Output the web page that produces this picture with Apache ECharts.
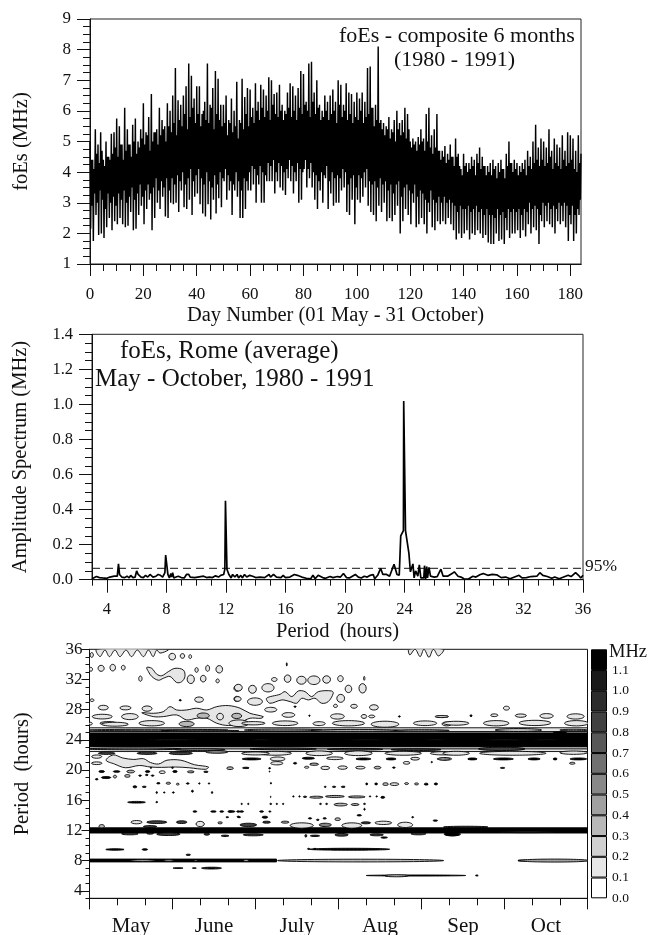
<!DOCTYPE html>
<html><head><meta charset="utf-8">
<script src="https://cdn.jsdelivr.net/npm/echarts@6/dist/echarts.min.js"></script>
<style>html,body{margin:0;padding:0;background:#fff}#c{width:648px;height:935px}</style></head>
<body><div id="c"></div>
<script>
// ---- top panel: foEs (MHz), daily extremes and the inner oscillation, day 0..184
const dailyHigh=[5.0,4.4,5.4,4.9,5.3,4.4,5.0,4.5,5.25,5.3,
5.75,5.5,4.9,6.1,5.4,4.9,5.55,5.75,5.0,5.4,
6.25,5.3,5.8,6.55,5.3,5.4,6.1,5.7,5.5,6.25,
6.0,6.5,7.4,6.35,6.2,6.5,6.8,7.55,7.15,6.4,
6.8,6.8,5.9,6.3,7.55,6.2,6.75,7.3,7.05,6.2,
6.2,6.5,5.7,6.4,6.0,6.95,5.7,7.05,6.45,6.75,
6.7,6.1,6.9,6.3,6.85,6.7,6.5,7.1,7.0,6.55,
6.6,6.85,6.2,6.0,6.6,6.9,6.8,6.5,6.75,7.3,
7.2,6.3,7.55,7.6,6.6,7.0,6.2,6.0,6.5,6.3,
6.5,6.7,6.3,7.0,6.85,6.2,6.9,6.6,6.55,6.3,
6.6,6.4,6.6,6.3,7.4,7.45,6.1,6.2,8.1,5.7,
5.6,5.5,5.8,5.4,5.7,6.0,5.6,5.7,6.1,5.9,
5.0,5.1,5.0,5.15,5.4,5.1,5.9,6.1,5.2,5.4,
5.9,4.7,4.7,4.85,4.6,4.9,4.5,5.1,4.6,4.1,
4.6,4.3,4.3,4.5,4.4,4.6,4.8,4.5,4.2,4.2,
4.3,4.4,4.2,4.3,4.4,4.1,4.6,5.0,4.3,4.4,
4.3,4.2,4.3,4.4,4.7,4.5,5.0,5.55,4.8,5.1,
5.0,4.8,5.4,4.7,5.1,4.9,4.8,5.2,4.7,5.3,
5.2,5.1,4.7,5.2,4.6];
const dailyLow=[2.15,1.75,2.6,1.95,2.0,1.85,2.2,2.5,2.1,2.4,
2.3,2.5,2.3,2.2,2.25,2.7,2.1,2.15,2.6,2.9,
2.3,2.8,3.1,2.1,2.5,3.0,2.8,3.2,2.55,2.5,
3.0,2.95,3.0,2.7,3.4,2.85,2.8,3.1,2.6,3.2,
3.3,2.95,2.65,2.55,2.95,2.45,3.1,2.65,3.15,2.85,
3.7,3.1,3.4,2.6,3.4,3.2,2.5,2.5,2.8,3.4,
3.4,3.6,3.0,3.6,3.0,3.0,3.7,3.7,3.7,3.3,
3.7,3.5,3.4,3.25,3.8,3.7,3.3,3.7,3.0,3.1,
4.1,3.5,3.8,3.5,3.1,2.8,3.4,3.0,3.8,2.8,
3.3,2.9,3.0,3.0,3.4,3.5,2.7,2.6,3.1,2.3,
3.1,3.0,3.2,3.5,2.9,2.7,2.6,2.4,2.9,2.7,
3.0,2.4,2.5,2.4,2.6,2.9,2.0,2.4,2.8,2.6,
2.3,3.0,2.2,2.3,2.5,2.3,2.0,2.7,2.2,2.1,
2.4,2.3,2.4,2.3,2.5,2.3,2.1,1.8,2.0,1.85,
2.0,2.1,1.8,2.0,1.95,2.1,2.0,1.85,1.95,1.7,
1.65,1.65,2.0,1.75,1.8,1.65,2.1,1.85,2.0,2.0,
2.1,1.85,2.1,1.9,2.3,2.0,2.2,2.1,1.65,2.4,
2.2,2.4,2.3,2.2,2.0,2.4,2.3,2.4,2.2,1.75,
2.3,1.75,2.0,2.6,1.85];
const innerHigh=[4.4,4.1,4.6,4.3,4.7,4.2,4.5,4.4,4.6,4.8,
4.5,4.9,4.4,4.7,4.9,4.5,5.0,4.6,4.8,5.1,
4.9,5.2,4.7,5.0,5.3,4.9,5.2,5.4,5.0,5.5,
5.3,5.6,5.2,5.7,5.5,5.9,5.4,5.8,6.1,5.6,
5.9,5.5,6.0,5.7,5.6,6.1,5.4,5.9,5.7,5.5,
5.6,5.2,5.6,5.3,5.5,5.1,5.6,5.4,5.9,5.5,
5.8,5.6,6.0,5.7,6.1,5.8,6.0,5.7,6.2,5.9,
5.8,6.0,5.7,5.9,6.1,5.8,6.0,5.7,6.1,5.9,
6.2,6.0,5.8,6.3,5.9,6.1,5.7,5.8,6.0,5.7,
5.9,6.0,5.6,6.2,5.8,6.0,5.7,5.9,5.6,5.8,
5.7,6.0,5.6,5.8,5.9,6.1,5.5,5.7,5.6,5.4,
5.2,5.4,5.1,5.3,5.0,5.4,5.2,5.3,5.1,5.4,
4.8,4.9,4.7,4.9,5.0,4.7,5.0,4.8,4.6,4.8,
4.7,4.4,4.5,4.3,4.4,4.5,4.2,4.5,4.2,3.9,
4.2,4.0,4.1,4.2,3.9,4.3,4.1,4.2,3.9,4.0,
3.9,4.1,3.8,4.0,4.1,3.8,4.2,4.3,4.0,4.1,
3.9,4.0,4.1,3.9,4.2,4.1,4.3,4.4,4.2,4.4,
4.2,4.3,4.5,4.1,4.3,4.2,4.1,4.4,4.2,4.3,
4.4,4.1,4.0,4.3,4.0];
const innerLow=[2.9,3.3,3.0,3.4,3.1,2.8,3.3,3.0,3.2,2.9,
3.3,3.1,3.4,3.0,3.2,3.5,3.1,3.3,3.6,3.2,
3.4,3.6,3.3,3.5,3.8,3.4,3.7,3.5,3.8,3.4,
3.8,3.6,3.9,3.7,4.0,3.6,3.8,4.1,3.7,3.9,
4.1,3.8,3.6,4.0,3.7,3.5,3.9,3.6,4.0,3.8,
4.1,3.9,3.7,3.6,4.0,3.7,3.4,3.8,3.7,4.0,
4.2,4.1,3.9,4.2,4.0,3.9,4.3,4.2,4.4,4.0,
4.3,4.2,4.0,4.1,4.4,4.2,4.0,4.3,4.1,4.0,
4.4,4.1,4.3,4.0,3.9,3.7,4.0,3.9,4.2,3.7,
4.0,3.8,3.9,3.8,4.1,4.0,3.6,3.8,3.9,3.5,
3.9,3.8,4.0,4.1,3.7,3.6,3.7,3.5,3.8,3.6,
3.7,3.4,3.6,3.3,3.6,3.7,3.2,3.5,3.6,3.4,
3.3,3.6,3.2,3.4,3.3,3.1,3.0,3.4,3.1,3.0,
3.2,3.0,3.2,3.0,3.1,3.0,2.9,2.7,2.9,2.8,
2.8,2.9,2.7,2.8,2.9,2.7,2.8,2.6,2.8,2.6,
2.6,2.5,2.8,2.6,2.7,2.5,2.8,2.7,2.8,2.7,
2.8,2.6,2.8,2.7,3.0,2.8,2.9,2.8,2.6,3.0,
2.9,3.0,2.8,2.9,2.8,3.0,2.9,3.0,2.9,2.6,
2.9,2.6,2.8,3.1,2.7];
const dayMajorTicks=[0,20,40,60,80,100,120,140,160,180];
const dayMinorTicks=[5,10,15,25,30,35,45,50,55,65,70,75,85,90,95,105,110,115,125,130,135,145,150,155,165,170,175];

// ---- middle panel: amplitude spectrum
const spectrumPeriod=[3,3.1,3.3,3.5,3.7,4,4.2,4.3,4.5,4.6,4.7,4.78,4.85,5,5.1,5.2,5.35,5.5,5.6,5.75,5.9,6,6.1,6.3,6.45,6.6,6.75,6.9,7,7.1,7.3,7.45,7.6,7.75,7.9,7.95,8.05,8.1,8.2,8.3,8.35,8.42,8.5,8.65,8.8,9,9.2,9.35,9.5,9.6,9.9,10.1,10.2,10.5,10.7,10.9,11.1,11.3,11.5,11.65,11.85,11.93,11.97,12.03,12.07,12.2,12.35,12.45,12.6,12.75,12.85,13,13.1,13.25,13.4,13.6,13.8,14,14.3,14.6,14.9,15,15.2,15.4,15.5,15.7,15.85,16,16.3,16.6,16.8,17.1,17.4,17.7,17.85,18,18.2,18.5,18.7,19,19.2,19.5,19.7,19.9,20.1,20.3,20.5,20.7,20.9,21.1,21.3,21.5,21.7,21.9,22,22.2,22.4,22.55,22.8,23,23.3,23.5,23.65,23.75,23.93,23.95,24.05,24.07,24.17,24.3,24.4,24.5,24.57,24.65,24.75,24.9,25,25.1,25.3,25.35,25.42,25.5,25.55,25.65,25.75,26,26.2,26.45,26.6,26.9,27.2,27.35,27.6,27.8,28,28.3,28.6,28.8,29.1,29.3,29.6,29.9,30.2,30.5,30.8,31.1,31.4,31.7,31.9,32.2,32.5,32.9,33.1,33.3,33.6,33.9,34.1,34.4,34.7,35,35.2,35.5,35.7,35.85,36];
const spectrumAmp=[.005,.015,.018,.012,.01,.008,.015,.012,.02,.025,.02,.09,.03,.015,.02,.012,.02,.01,.025,.012,.015,.05,.03,.015,.012,.025,.015,.03,.035,.015,.02,.03,.025,.015,.04,.14,.14,.03,.01,.035,.015,.04,.01,.015,.02,.012,.01,.03,.03,.015,.012,.015,.008,.02,.012,.015,.012,.022,.015,.025,.03,.06,.45,.45,.06,.03,.01,.03,.015,.03,.01,.025,.01,.03,.015,.025,.02,.012,.015,.012,.03,.015,.03,.015,.025,.012,.025,.012,.015,.03,.025,.015,.008,.005,.025,.005,.025,.012,.008,.018,.012,.018,.015,.035,.012,.01,.02,.03,.015,.01,.02,.015,.025,.03,.005,.025,.065,.03,.03,.02,.088,.03,.025,.25,.28,1.02,1.02,.28,.27,.15,.045,.04,.09,.01,.05,.02,.085,.01,.01,.08,.002,.075,.01,.07,.02,.015,.018,.06,.02,.02,.035,.045,.02,.015,.005,.004,.02,.015,.03,.035,.025,.03,.028,.012,.015,.005,.015,.025,.01,.012,.018,.02,.04,.025,.018,.008,.015,.005,.015,.025,.018,.04,.025,.01,.025];
const significance95=0.065;
const periodMajorTicks=[4,8,12,16,20,24,28,32,36];
const periodMinorTicks=[3,5,6,7,9,10,11,13,14,15,17,18,19,21,22,23,25,26,27,29,30,31,33,34,35];

// ---- bottom panel: filled contours, in day (30 per month) and period (hours)
const months=['May','June','July','Aug','Sep','Oct'];
const levelValues=[0,.1,.2,.3,.4,.5,.6,.7,.8,.9,1.0,1.1];
const levelColors=['#ffffff','#e6e6e6','#d0d0d0','#b8b8b8','#a0a0a0','#888888','#707070','#585858','#404040','#2c2c2c','#1a1a1a','#000000'];
const contourPeriodMajor=[4,8,12,16,20,24,28,32,36];
const contourPeriodMinor=[3,5,6,7,9,10,11,13,14,15,17,18,19,21,22,23,25,26,27,29,30,31,33,34,35];
// [dayStart, dayEnd, periodLow, periodHigh, level]
const bands=[[0,180,22.45,25.6,1],[0,180,24.85,25.1,3],[0,180,22.8,23.2,3],[0,180,23.1,24.9,11],[0,180,11.65,12.35,11],[0,67.6,7.82,8.2,11],[155,158,7.93,8.07,11]];
// [day, period, halfDays, halfHours, level]
const blobs=[
[.8,35.25,.6,.31,1],[29.9,35.03,1.2,.44,1],[33.6,35.12,.8,.31,1],[36.4,35.03,.5,.26,1],
[.5,33.35,.6,.26,1],[4.2,33.48,1.1,.4,1],[8.4,33.57,1,.44,1],[12.2,33.57,.7,.31,1],[18.4,32.11,.6,.35,1],
[38.7,33.26,.6,.31,1],[42.7,33.48,.7,.4,1],[46.9,33.35,1.2,.49,1],[36.6,32.03,1.3,.57,1],[41.1,32.11,1,.44,1],[46.3,31.81,.6,.26,1],
[53.4,30.83,1.2,.4,1],[53.2,29.42,1,.35,1],[39.6,29.33,1.6,.35,1],[32.8,29.25,.4,.09,11],[.9,29.25,.7,.18,1],
[5,28.27,1.8,.31,1],[13,28.23,2,.26,1],[20.8,28.14,1.8,.35,1],
[4.6,27.08,3.6,.31,1],[14.6,27.08,3,.4,1],[6.8,26.2,3,.22,3],[9.2,26.07,4.8,.26,1],[22.5,26.2,4.6,.35,1],[.4,26.15,.6,.18,1],
[35.1,26.11,2.7,.35,3],[41.1,27.21,2.2,.35,3],[47.2,27.08,1.2,.44,1],[53.2,27.17,1.8,.35,3],[54,26.2,3.6,.44,1],
[25,25.3,25,.1,3],[40,25.2,14,.08,3],
[16,22.8,17,.12,5],[40,22.7,9,.12,5],[20.8,22.22,3.6,.15,8],[6.2,22.22,3,.15,8],[33,22.22,4.2,.18,8],[46,22.4,4,.18,5],
[2.6,21.78,1.8,.22,1],[2.6,20.9,1.9,.18,1],[50.8,20.24,1.2,.18,3],
[4.4,19.8,1,.13,11],[9.8,19.8,1.2,.11,11],[14.9,19.8,1.4,.18,3],[21,19.8,.8,.13,11],[26.3,19.71,1.1,.18,1],[30.9,19.8,.8,.13,11],[36.6,19.76,1.2,.13,3],[42.1,19.76,.8,.09,11],[22.2,20.3,.25,.09,11],[30,20.3,.35,.09,11],
[2.6,18.78,.5,.09,11],[6,19,1.7,.13,11],[9.2,19.13,.6,.18,3],[13.7,19.22,1,.18,3],[18.3,19.26,.5,.09,11],[20.7,19.35,.5,.09,11],[22.8,19.26,.5,.09,11],
[24.9,18.25,.6,.09,11],[28.5,18.25,.8,.13,3],[31.9,18.13,.5,.13,1],[35.5,18.22,.5,.09,11],[39.7,18.22,.25,.09,11],[43.2,18.22,.25,.09,11],
[16.4,17.77,.7,.13,11],[19.8,17.77,.7,.09,11],
[24.3,17.02,.25,.13,11],[27,17.02,.25,.09,11],[30.3,17.02,.35,.09,11],[37.2,17.2,.35,.13,11],[44.3,17.02,.25,.13,11],
[17,15.73,3.2,.11,11],[24.3,15.75,.35,.09,11],
[38.1,14.5,.7,.09,11],[44.8,14.5,1,.09,11],[47.8,14.5,.7,.09,11],[50.8,14.5,.8,.09,11],[53.8,14.5,.6,.09,11],[49.8,13.75,.5,.07,11],[54.1,13.75,.5,.07,11],
[17,13.09,2,.22,1],[24.3,13.09,3.6,.18,8],[33.3,13.09,1.9,.18,8],[40,12.85,1.5,.35,1],[47.2,13,.8,.13,3],[21.9,12.51,2.4,.13,8],[4.4,12.55,1,.22,3],
[14.6,11.54,3,.13,8],[28.5,11.5,4.2,.18,8],[21.9,11.59,1.2,.09,8],[42.4,11.5,1,.13,8],[49,11.28,1.4,.09,11],
[9.2,9.47,3.3,.1,11],[20,9.47,1,.1,11],[35.7,8.76,.8,.09,11],
[19.2,8.0,4.6,.11,2],[28.6,8.0,1.9,.1,2],[38.4,8.0,.6,.08,2],[56.6,8.0,1,.12,2],
[32,7,1.8,.05,11],[37.9,7,.7,.05,11],[44.1,7,3.6,.12,11],
[71.3,34,.15,.22,11],[71.6,32.11,1.2,.49,1],[76.6,31.9,1.7,.53,1],[81.1,31.9,2.2,.57,1],[85.7,32,1.4,.49,1],[90.7,32.11,1,.4,1],[99.3,32.15,.25,.26,1],[98.7,30.83,1.3,.62,1],[93.6,30.75,1.2,.49,1],
[64.5,30.9,2.2,.55,1],[66.8,32,1,.26,1],[53.8,30.92,1.4,.44,1],[58.9,30.7,1.4,.53,1],[53.6,29.42,1.2,.31,1],[59.8,29.07,2.7,.49,1],[65.5,28,2.2,.31,1],[90.8,29.5,1.4,.53,1],[88.9,28.5,.7,.22,1],[95.6,28.45,1.2,.26,1],[102.8,28.3,1.6,.35,1],[74.3,28.4,.4,.09,11],
[71.9,27.3,2.3,.31,1],[79.5,27.2,.25,.09,11],[89.6,27.1,2.5,.35,1],[99.2,27.1,1,.26,1],[102,27.1,1.1,.18,1],[112,27.1,.35,.09,11],[127.5,27.1,2.2,.13,1],
[59.2,26.2,4.2,.22,1],[70.7,26.2,4.6,.31,1],[83,26.15,2.2,.26,1],[93.6,26.2,5.8,.35,1],[106.8,26.07,5,.4,1],[121.3,26.2,4.2,.31,1],[129.1,26.11,1.7,.26,1],
[70,25.3,14,.13,3],[96,25.25,16,.13,3],[120,25.25,10,.1,3],
[67,22.22,6,.26,1],[83,22.22,4.8,.31,1],[97.2,22.22,5,.31,1],[113.4,22.22,6.6,.26,1],[128,22.22,4.8,.22,1],[60,22.2,5,.2,1],
[70,22.8,12,.12,8],[96,22.75,10,.12,8],[118,22.7,9,.12,8],
[58.6,21.47,3.4,.13,11],[68,21.47,2.7,.26,1],[79.1,21.56,2.2,.13,11],[88.7,21.56,3,.18,1],[99,21.47,2.7,.13,11],[109,21.47,1.8,.13,11],[117.7,21.5,1.6,.18,1],[128.5,21.47,2.4,.18,1],[123.7,21.05,.25,.09,11],
[67.7,20.9,2.2,.22,1],[74.3,20.9,.6,.11,11],[81.2,20.77,1.6,.15,3],[114.6,20.95,1.2,.18,1],
[56.5,20.28,1.2,.09,11],[65.1,20.24,.35,.09,11],[78.5,20.37,.8,.13,1],[85.2,20.28,1.6,.22,1],[91.5,20.32,1.7,.22,1],[97.9,20.32,1.7,.18,1],[104.1,20.32,1.2,.18,3],[110,20.32,.5,.09,11],
[65.1,19.8,.12,.09,11],[65.5,18.25,.12,.09,11],[65.5,16.44,.12,.09,11],[65.7,18.25,.1,.07,11],
[85.2,17.77,.35,.09,11],[88.4,17.77,.6,.09,11],[91.7,17.77,.7,.09,11],
[100.2,18.16,.35,.13,11],[103.6,18.16,.5,.13,11],[107,18.13,1,.18,3],[110.2,18.13,1.6,.18,1],[114.6,18.2,.7,.13,3],[118.2,18.16,.7,.13,3],[121.7,18.13,.7,.13,11],[125.2,18.16,.6,.13,11],
[73.7,16.5,.25,.09,11],[75.9,16.5,.25,.09,11],[77.9,16.45,.6,.09,11],[82,16.4,2.4,.13,3],[88.7,16.5,3.4,.13,3],[96.6,16.44,3,.13,3],[101.4,16.5,.25,.09,11],[103.8,16.5,.25,.09,11],[106,16.38,.7,.13,11],
[83.5,15.51,.35,.09,11],[85.7,15.51,.35,.09,11],[90.8,15.42,2.4,.18,3],[96,15.42,1.4,.13,3],[99.4,15.51,.35,.09,11],[65.5,15.51,.35,.09,11],[67.7,15.51,.25,.09,11],[70,15.51,.25,.09,11],[55,15.51,.25,.09,11],[57.4,15.51,.25,.09,11],
[99.4,14.8,.25,.13,11],[51.4,14.5,1.2,.09,11],[55,14.5,.7,.09,11],[62.2,14.5,.7,.09,11],[65.2,14.5,.35,.09,11],
[53.8,13.8,.5,.09,11],[63.4,13.75,1,.13,11],[79.7,13.6,.6,.09,11],[82.5,13.4,.5,.09,11],[85,13.6,.6,.09,11],[89.7,13.48,1,.18,3],[97.5,14,.8,.09,11],[116.8,13.75,.35,.09,11],[125,13.3,.8,.09,11],
[57.4,12.73,3,.22,8],[64,13.09,1.4,.13,8],[70.7,13.09,1.4,.13,3],[76.7,12.65,4.2,.35,1],[85.2,12.73,2.2,.22,5],[94.8,12.65,3.6,.35,1],[99.9,13,1.7,.13,8],[106.2,13,3,.22,1],[114.1,12.73,2.7,.35,1],
[59.2,11.41,3.6,.13,8],[78.2,11.28,.35,.18,8],[81.5,11.28,1.7,.09,11],[91.1,11.41,2.4,.18,8],[103.8,11.41,2.4,.13,8],[106.5,11.05,1.2,.09,11],[118.9,11.54,2.7,.13,8],[131.4,11.5,2.7,.22,8],
[79.2,9.55,.4,.08,11],[81.5,9.55,.4,.08,11],[94,9.5,14.5,.13,11],
[98,8.0,30,.18,3],[168,8.0,12.5,.2,4],
[118,6.02,18,.07,11],[111,5.98,4.2,.13,2],[140,6.02,.5,.07,11],
[150.7,28.2,1.1,.26,1],[146.3,27.26,1.3,.18,1],[155.9,27.21,2,.22,1],[165.2,27.17,2.4,.31,1],[175.7,27.1,3.1,.35,1],[137.9,27.2,.35,.13,11],[127.3,27.08,2.4,.13,1],
[132.5,26.2,4.6,.26,1],[147,26.2,4.6,.35,1],[161,26.24,5.7,.35,1],[176,26.2,4.3,.35,1],
[155,25.3,8.4,.2,3],[170,24.98,2.4,.09,11],[175,25.3,5,.1,3],
[132.5,22.22,4.8,.26,1],[149,22.8,8.4,.22,8],[153,22.22,12,.26,1],[175,22.3,5,.22,1],
[128,21.47,2.4,.13,1],[138.4,21.47,1.7,.13,11],[149.6,21.47,3.6,.13,11],[160.7,21.47,2.2,.13,11],[168.3,21.47,.7,.13,11],[176.7,21.47,3,.13,11],[174.5,20.9,1,.13,2],[149.3,20.28,.8,.07,11],
[130.9,11.5,2.7,.22,11],[158,11.8,10,.1,8],[136,12.45,8,.1,8],
[125,24,4,.07,8],[62,24,4,.07,8],[30,24,9,.07,7],[100,24,8,.07,8],[150,24,8,.07,7],[165,24,5,.07,8]
];
// [level, day, period, day, period, ...] outlines of the elongated contours
const outlines=[
[1,2.6,36,3.8,35.03,5.6,35.9,7.2,35.03,9.2,35.9,11,35.03,13.2,35.9,15.2,35.03,17.3,35.9,19.5,35.03,21.3,35.9,23,35.03,24.3,35.9,25.5,35.5,28.5,35.9,28,36],
[1,20.7,33.6,22.5,33.48,24.3,32.7,26.1,32.5,28.5,33.04,30.9,33.48,33.9,33.26,34.5,32.4,33.3,31.7,31.5,31.6,29.1,32.4,26.7,32.16,24.9,31.9,22.5,32.4,21.3,33.04],
[1,18.9,27.6,23.1,27.52,26.7,27.74,29.1,28.4,31.5,27.96,35.1,27.96,38.7,28.19,42.4,27.96,46,28.4,50.2,28.54,54.4,28.2,58,27.52,62.8,27.08,62,26.86,58,26.86,54,26.2,50.2,25.9,46,26.2,42.4,26.86,38.7,26.86,35.1,26.64,31.5,27.3,26.7,27.08,23.1,27.08],
[1,64,29.51,68.9,30.04,70.7,30.39,73.1,29.73,75.5,30.48,77.9,30.39,80.3,29.73,82.7,30.39,87.5,30.48,88.1,30.17,86.3,29.07,83.9,28.85,81.5,29.51,79.1,29.29,76.7,29.51,74.9,28.85,72.5,29.07,69.5,29.29,65.2,28.85],
[1,115.5,36,115.8,35.25,117.7,36,119.5,35.03,120.9,36,122.7,34.94,124.3,36,126.1,35.12,127.9,36],
[1,8.6,22,12,21.6,16,21.4,19.5,21.5,22,21,25,20.8,28,21.3,33,21.3,38,20.7,43,20.4,42,20.1,36,20.3,31,20.4,26,20.35,22,20.4,18,20.6,13,20.3,9,20.8,6,21.3]
];

const SERIF='Liberation Serif';
function axisBase(o){return Object.assign({gridIndex:o.g,type:'value',min:o.min,max:o.max,position:o.pos,
  splitLine:{show:false},axisLine:{onZero:false,lineStyle:{color:'#111',width:1}},
  axisTick:{show:true,length:o.len,lineStyle:{color:'#111',width:1},customValues:o.ticks},
  axisLabel:o.labels?{show:true,customValues:o.ticks,margin:o.margin,fontFamily:SERIF,fontSize:o.fs,color:'#111',formatter:o.fmt}:{show:false}},o.extra||{});}
const nameStyle=fs=>({fontFamily:SERIF,fontSize:fs,color:'#111'});

const composite=[];
dailyHigh.forEach((v,i)=>{
  composite.push([i,v]);
  if(i<184){composite.push([i+.25,dailyLow[i]],[i+.5,innerHigh[i]],[i+.75,innerLow[i]]);}
});
const spectrum=spectrumPeriod.map((p,i)=>[p,spectrumAmp[i]]);

function ell(params,api){
  const x=api.value(0),y=api.value(1),hw=api.value(2),hh=api.value(3),lv=api.value(4);
  const a=api.coord([x-hw,y+hh]),b=api.coord([x+hw,y-hh]);
  return {type:'ellipse',shape:{cx:(a[0]+b[0])/2,cy:(a[1]+b[1])/2,rx:(b[0]-a[0])/2,ry:(b[1]-a[1])/2},
    style:{fill:levelColors[lv],stroke:'#000',lineWidth:.9}};
}
function bandItem(params,api){
  const a=api.coord([api.value(0),api.value(3)]),b=api.coord([api.value(1),api.value(2)]);
  return {type:'rect',shape:{x:a[0],y:a[1],width:b[0]-a[0],height:b[1]-a[1]},style:{fill:levelColors[api.value(4)],stroke:'#000',lineWidth:.9}};
}
function outlineItem(params,api){
  const o=outlines[api.value(0)],pts=[];
  for(let i=1;i<o.length;i+=2)pts.push(api.coord([o[i],o[i+1]]));
  return {type:'polygon',shape:{points:pts,smooth:.35},style:{fill:levelColors[o[0]],stroke:'#000',lineWidth:.9}};
}
const colorSeries=levelColors.map(c=>({type:'bar',xAxisIndex:6,yAxisIndex:4,stack:'scale',barWidth:'100%',silent:true,
  data:[.1],itemStyle:{color:c,borderColor:'#000',borderWidth:1}}));

const opt={animation:false,backgroundColor:'#fff',
 grid:[
  {left:90,top:19,width:491,height:245,show:true,borderColor:'#222',borderWidth:1,outerBoundsMode:'none'},
  {left:92,top:334.3,width:491,height:245.4,show:true,borderColor:'#222',borderWidth:1,outerBoundsMode:'none'},
  {left:89.5,top:649.3,width:498,height:249,show:true,borderColor:'#111',borderWidth:1,outerBoundsMode:'none'},
  {left:591,top:649.3,width:16,height:249,show:false,outerBoundsMode:'none'}],
 xAxis:[
  axisBase({g:0,min:0,max:184,pos:'bottom',len:12,ticks:dayMajorTicks,labels:true,margin:22,fs:17,
    extra:{name:'Day Number (01 May - 31 October)',nameLocation:'middle',nameGap:41,nameTextStyle:nameStyle(20.5)}}),
  axisBase({g:0,min:0,max:184,pos:'bottom',len:7,ticks:dayMinorTicks}),
  axisBase({g:1,min:3,max:36,pos:'bottom',len:13,ticks:periodMajorTicks,labels:true,margin:21,fs:16.5,
    extra:{name:'Period  (hours)',nameLocation:'middle',nameGap:41,nameTextStyle:nameStyle(20.5)}}),
  axisBase({g:1,min:3,max:36,pos:'bottom',len:6,ticks:periodMinorTicks}),
  {gridIndex:2,type:'value',min:0,max:180,interval:30,position:'bottom',splitLine:{show:false},
   axisLine:{onZero:false,lineStyle:{color:'#111'}},axisTick:{show:true,length:11,lineStyle:{color:'#111'}},
   minorTick:{show:true,splitNumber:3,length:7,lineStyle:{color:'#111'}},axisLabel:{show:false}},
  {gridIndex:2,type:'category',data:months,position:'bottom',boundaryGap:true,axisLine:{show:false},axisTick:{show:false},
   axisLabel:{show:true,interval:0,margin:18,fontFamily:SERIF,fontSize:21,color:'#111'}},
  {gridIndex:3,type:'category',data:['MHz'],show:false}
 ],
 yAxis:[
  {gridIndex:0,type:'value',min:1,max:9,interval:1,position:'left',name:'foEs (MHz)',nameLocation:'middle',nameGap:58,nameTextStyle:nameStyle(20.5),
   splitLine:{show:false},axisLine:{onZero:false,lineStyle:{color:'#111'}},axisTick:{length:13,lineStyle:{color:'#111'}},
   minorTick:{show:true,splitNumber:4,length:7,lineStyle:{color:'#111'}},axisLabel:{margin:19,fontFamily:SERIF,fontSize:17,color:'#111'}},
  {gridIndex:1,type:'value',min:0,max:1.4,interval:.2,position:'left',name:'Amplitude Spectrum (MHz)',nameLocation:'middle',nameGap:61,nameTextStyle:nameStyle(20.5),
   splitLine:{show:false},axisLine:{onZero:false,lineStyle:{color:'#111'}},axisTick:{length:13,lineStyle:{color:'#111'}},
   minorTick:{show:true,splitNumber:4,length:7,lineStyle:{color:'#111'}},
   axisLabel:{margin:19,fontFamily:SERIF,fontSize:16.5,color:'#111',formatter:v=>v.toFixed(1)}},
  axisBase({g:2,min:3,max:36,pos:'left',len:8,ticks:contourPeriodMajor,labels:true,margin:7,fs:17,
    extra:{name:'Period  (hours)',nameLocation:'middle',nameGap:56,nameTextStyle:nameStyle(20.5)}}),
  axisBase({g:2,min:3,max:36,pos:'left',len:4,ticks:contourPeriodMinor}),
  axisBase({g:3,min:0,max:1.2,pos:'right',len:0,ticks:levelValues,labels:true,margin:5,fs:13.5,fmt:v=>v.toFixed(1),
    extra:{axisLine:{show:false}}})
 ],
 graphic:[
  {type:'text',left:339,top:25,style:{text:'foEs - composite 6 months',font:'22px "Liberation Serif"',fill:'#111'}},
  {type:'text',left:394,top:49,style:{text:'(1980 - 1991)',font:'22px "Liberation Serif"',fill:'#111'}},
  {type:'text',left:120,top:339,style:{text:'foEs, Rome (average)',font:'25px "Liberation Serif"',fill:'#111'}},
  {type:'text',left:95,top:367,style:{text:'May - October, 1980 - 1991',font:'25px "Liberation Serif"',fill:'#111'}},
  {type:'text',left:585,top:557,style:{text:'95%',font:'17.5px "Liberation Serif"',fill:'#111'}},
  {type:'text',left:609,top:643,style:{text:'MHz',font:'18.5px "Liberation Serif"',fill:'#111'}}
 ],
 series:[
  {type:'line',xAxisIndex:0,yAxisIndex:0,data:composite,showSymbol:false,lineStyle:{color:'#000',width:1.45,join:'miter'},clip:true},
  {type:'line',xAxisIndex:2,yAxisIndex:1,data:[[3,significance95],[36,significance95]],showSymbol:false,lineStyle:{color:'#111',width:1,type:[8,5]}},
  {type:'line',xAxisIndex:2,yAxisIndex:1,data:spectrum,showSymbol:false,lineStyle:{color:'#000',width:1.7}},
  {type:'custom',xAxisIndex:4,yAxisIndex:2,data:bands,renderItem:bandItem,clip:true,encode:{x:[0,1],y:[2,3]}},
  {type:'custom',xAxisIndex:4,yAxisIndex:2,data:outlines.map((o,i)=>[i]),renderItem:outlineItem,clip:true,encode:{x:0}},
  {type:'custom',xAxisIndex:4,yAxisIndex:2,data:blobs,renderItem:ell,clip:true,encode:{x:0,y:1}},
  ...colorSeries
 ]
};
const chart=echarts.init(document.getElementById('c'),null,{renderer:'canvas',width:648,height:935});
chart.setOption(opt);
</script></body></html>
